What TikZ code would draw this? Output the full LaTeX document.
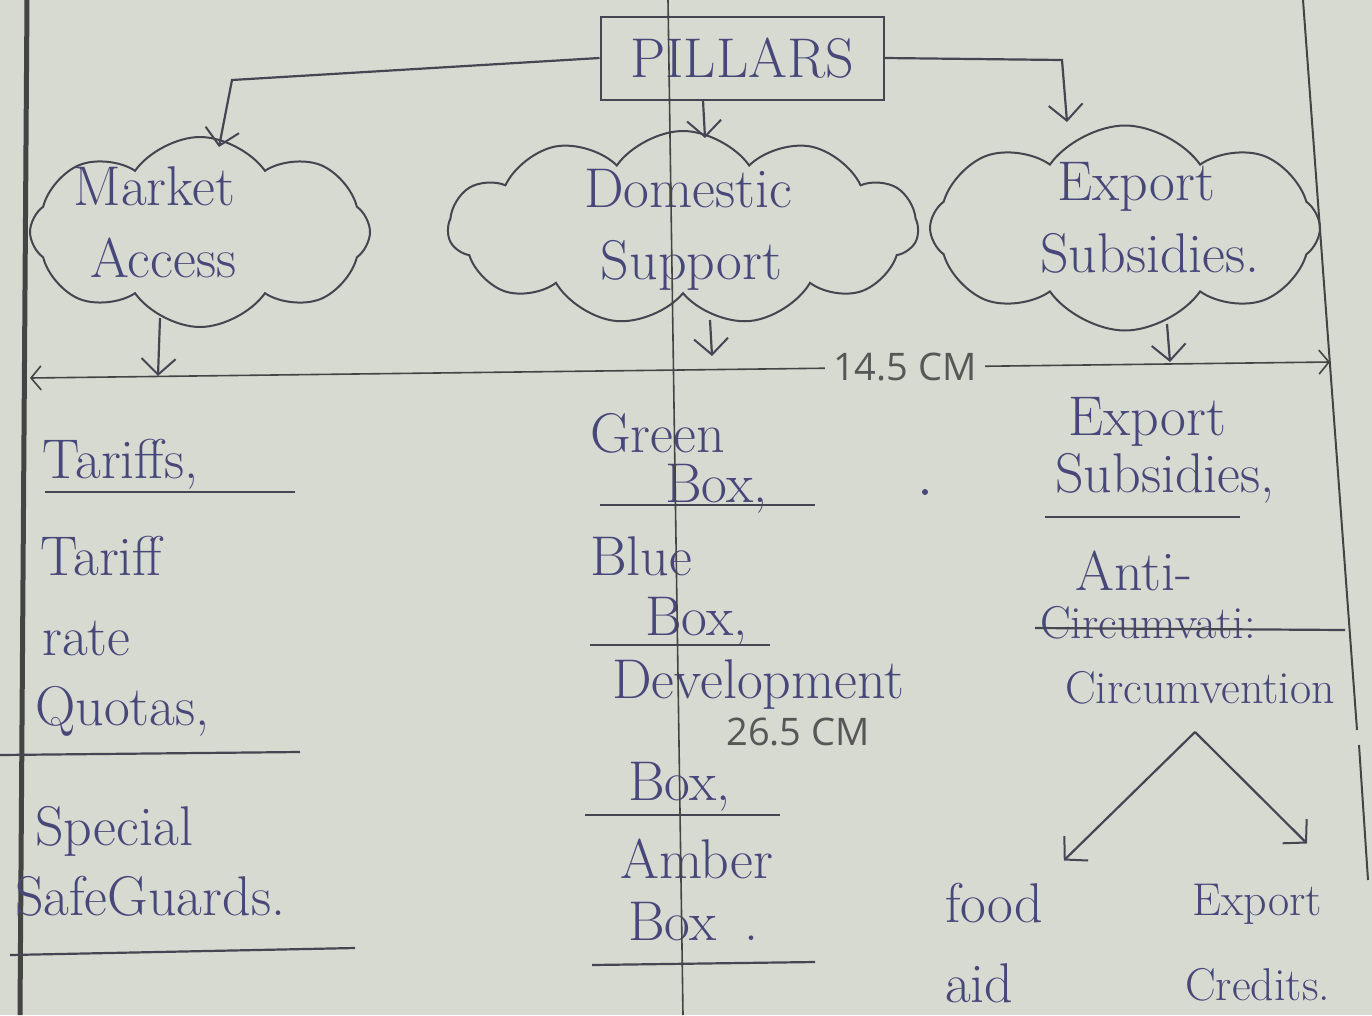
\documentclass[tikz,border=0pt]{standalone}
\usepackage{fontspec}
\newfontfamily\measfont{Open Sans}
\usetikzlibrary{shapes.symbols,arrows.meta}

\definecolor{paper}{HTML}{D7DAD0}
\definecolor{ink}{HTML}{47477A}
\definecolor{pencil}{HTML}{444444}

\tikzset{
    hand/.style={text=ink, font=\fontsize{56}{60}\selectfont, inner sep=0pt},
    handsmall/.style={hand, font=\fontsize{46}{50}\selectfont},
    puff/.style={cloud, cloud puffs=8, cloud puff arc=110, cloud ignores aspect,
        draw=pencil!80!ink, line width=2pt, inner sep=0pt},
    inkline/.style={draw=pencil!70!ink, line width=2.2pt},
    barb/.style={-{Straight Barb[length=16pt,width=34pt,line width=2pt]}},
    meas/.style={draw=pencil, line width=1.6pt},
    meastext/.style={text=pencil!90, font=\measfont\fontsize{38}{40}\selectfont},
}

\begin{document}
\begin{tikzpicture}[x=1pt, y=-1pt]
% page of notes: three pillars and what falls under each

\fill[paper] (0,0) rectangle (1372,1015);
\useasboundingbox (0,0) rectangle (1372,1015);

% margins of the sheet
\draw[pencil, line width=5pt] (27,0) -- (20,1015);
\draw[pencil, line width=2pt] (1303,0) -- (1357,730);
\draw[pencil, line width=2pt] (1359,745) -- (1368,880);

% top of the tree
\node[hand, draw=pencil!70!ink, line width=2pt, minimum width=283pt,
    minimum height=83pt] (pillars) at (742,58) {PILLARS};

\node[puff, minimum width=340pt, minimum height=190pt] (market) at (200,232) {};
\node[puff, cloud puffs=11, minimum width=470pt, minimum height=194pt] (domestic) at (683,228) {};
\node[puff, minimum width=390pt, minimum height=205pt] (export) at (1125,228) {};

\node[hand, align=left, font=\fontsize{56}{72}\selectfont] (markettext)
    at (155,222) {Market\\\ Access};
\node[hand, align=left, font=\fontsize{56}{72}\selectfont] (domestictext)
    at (688,230) {Domestic\\\ Support};
\node[hand, align=left, font=\fontsize{56}{72}\selectfont] (exporttext)
    at (1150,218) {\ Export\\Subsidies.};

\draw[inkline, barb] (pillars.west) -- (232,80)
    -- ([xshift=19pt,yshift=85pt]market.center);
\draw[inkline, barb] ([xshift=-39pt]pillars.south)
    -- ([xshift=22pt,yshift=90pt]domestic.center);
\draw[inkline, barb] (pillars.east) -- (1062,60)
    -- ([xshift=-58pt,yshift=106pt]export.center);

% arrows down to the lists
\coordinate (marketend) at (158,376);
\coordinate (domesticend) at (712,356);
\coordinate (exportend) at (1170,362);
\draw[inkline, barb] ([xshift=-40pt,yshift=-86pt]market.center) -- (marketend);
\draw[inkline, barb] ([xshift=27pt,yshift=-92pt]domestic.center) -- (domesticend);
\draw[inkline, barb] ([xshift=42pt,yshift=-96pt]export.center) -- (exportend);

% market access
\node[hand, anchor=base west] (tariffs) at (42,478) {Tariffs,};
\node[hand, anchor=base west] (tariff) at (40,575) {Tariff};
\node[hand, anchor=base west] (rate) at (42,655) {rate};
\node[hand, anchor=base west] (quotas) at (35,725) {Quotas,};
\node[hand, anchor=base west] (special) at (35,845) {Special};
\node[hand, anchor=base west] (safeguards) at (15,915) {SafeGuards.};
\draw[inkline] (45,492) -- (295,492);
\draw[inkline] (0,755) -- (300,752);
\draw[inkline] (10,955) -- (355,948);

% domestic support
\node[hand, anchor=base west] (green) at (590,452) {Green};
\node[hand, anchor=base west] (greenbox) at (665,502) {Box,};
\node[hand, anchor=base west] (blue) at (590,575) {Blue};
\node[hand, anchor=base west] (bluebox) at (645,635) {Box,};
\node[hand, anchor=base west] (devel) at (612,698) {Development};
\node[hand, anchor=base west] (develbox) at (628,800) {Box,};
\node[hand, anchor=base west] (amber) at (620,878) {Amber};
\node[hand, anchor=base west] (amberbox) at (628,940) {Box\enspace.};
\draw[inkline] (600,505) -- (815,505);
\draw[inkline] (590,645) -- (770,645);
\draw[inkline] (585,815) -- (780,815);
\draw[inkline] (592,965) -- (815,962);
\fill[ink] (925,492) circle (3);

% export subsidies
\node[hand, anchor=base west] (exp) at (1068,435) {Export};
\node[hand, anchor=base west] (subs) at (1055,492) {Subsidies,};
\node[hand, anchor=base west] (anti) at (1075,590) {Anti-};
\node[handsmall, anchor=base west] (struck) at (1040,638) {Circumvati:};
\node[handsmall, anchor=base west] (circ) at (1065,703) {Circumvention};
\draw[inkline] (1045,517) -- (1240,517);
\draw[inkline] (1035,628) -- (1345,630);

\node[hand, anchor=base west] (food) at (945,922) {food};
\node[hand, anchor=base west] (aid) at (945,1002) {aid};
\node[handsmall, anchor=base west] (expcr) at (1192,915) {Export};
\node[handsmall, anchor=base west] (credits) at (1185,1000) {Credits.};

\coordinate (apex) at (1195,732);
\draw[inkline, barb] (apex) -- ([xshift=20pt,yshift=22pt]food.north east);
\draw[inkline, barb] (apex) -- ([xshift=-15pt,yshift=40pt]expcr.north east);

% measuring lines laid over the photo
\draw[meas] (668,0) -- (683,1015);
\draw[meas, {Straight Barb[length=10pt,width=24pt]}-{Straight Barb[length=10pt,width=24pt]}]
    (30,378) -- (1330,362)
    node[pos=0.673, fill=paper, inner sep=8pt, meastext] (width) {14.5 CM};
\node[meastext, inner sep=0pt] (height) at (798,732) {26.5 CM};

\end{tikzpicture}
\end{document}
